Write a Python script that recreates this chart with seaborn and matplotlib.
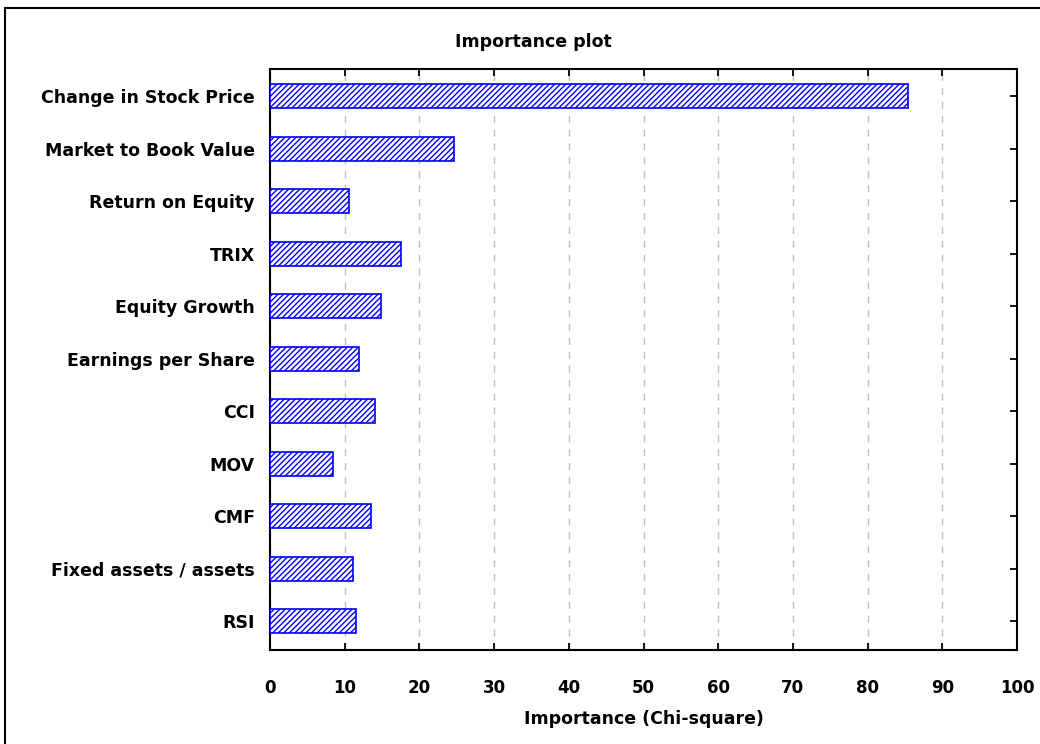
import pandas as pd
import numpy as np
import matplotlib.pyplot as plt
import seaborn as sns
from matplotlib.patches import Rectangle


predictors = ['Change in Stock Price', 'Market to Book Value', 'Return on Equity',
              'TRIX', 'Equity Growth', 'Earnings per Share', 'CCI', 'MOV', 'CMF',
              'Fixed assets / assets', 'RSI']
importance = [85.4, 24.6, 10.6, 17.6, 14.9, 11.9, 14.1, 8.4, 13.5, 11.1, 11.5]
x_ticks = [0, 10, 20, 30, 40, 50, 60, 70, 80, 90, 100]

df = pd.DataFrame({'Predictor': predictors, 'Importance': importance})

sns.set_style('ticks')
plt.rcParams['font.family'] = ['DejaVu Sans']
plt.rcParams['font.weight'] = 'bold'
plt.rcParams['text.color'] = 'black'
plt.rcParams['xtick.color'] = 'black'
plt.rcParams['ytick.color'] = 'black'
plt.rcParams['axes.labelcolor'] = 'black'
plt.rcParams['hatch.color'] = 'blue'
plt.rcParams['hatch.linewidth'] = 1.0

fig = plt.figure(figsize=(10.4, 7.44), dpi=100)
ax = fig.add_axes([270 / 1040, 1 - 650 / 744, (1017 - 270) / 1040, (650 - 69) / 744])

sns.barplot(data=df, x='Importance', y='Predictor', orient='h', color='white',
            edgecolor='blue', linewidth=1.2, width=0.46, ax=ax, zorder=3)
for p in ax.patches:
    p.set_hatch('//////')
    p.set_facecolor('white')
    p.set_edgecolor('blue')

ax.set_xlim(0, 100)
ax.set_ylim(10.55, -0.52)
ax.set_xticks(x_ticks)
ax.xaxis.grid(True, linestyle=(0, (5, 5)), color='#c0c0c0', linewidth=1, zorder=0)
ax.set_axisbelow(True)

ax.tick_params(axis='x', direction='in', top=True, bottom=True, length=5, width=1.3,
               pad=21, labelsize=12)
ax.tick_params(axis='y', direction='in', left=True, right=True, length=5, width=1.3,
               pad=11, labelsize=12.5)
for s in ax.spines.values():
    s.set_visible(True)
    s.set_linewidth(1.5)
    s.set_color('black')

ax.set_ylabel('')
ax.set_xlabel('Importance (Chi-square)', fontsize=12.5, fontweight='bold', labelpad=9)
fig.text(533 / 1040, 1 - 42 / 744, 'Importance plot', ha='center', va='center',
         fontsize=12.5, fontweight='bold')

fig.add_artist(Rectangle((5 / 1040, -0.1), 1.2, 1.1 - 8 / 744, transform=fig.transFigure,
                         fill=False, edgecolor='black', linewidth=1.5, clip_on=False))

plt.savefig('out.png', dpi=100)
